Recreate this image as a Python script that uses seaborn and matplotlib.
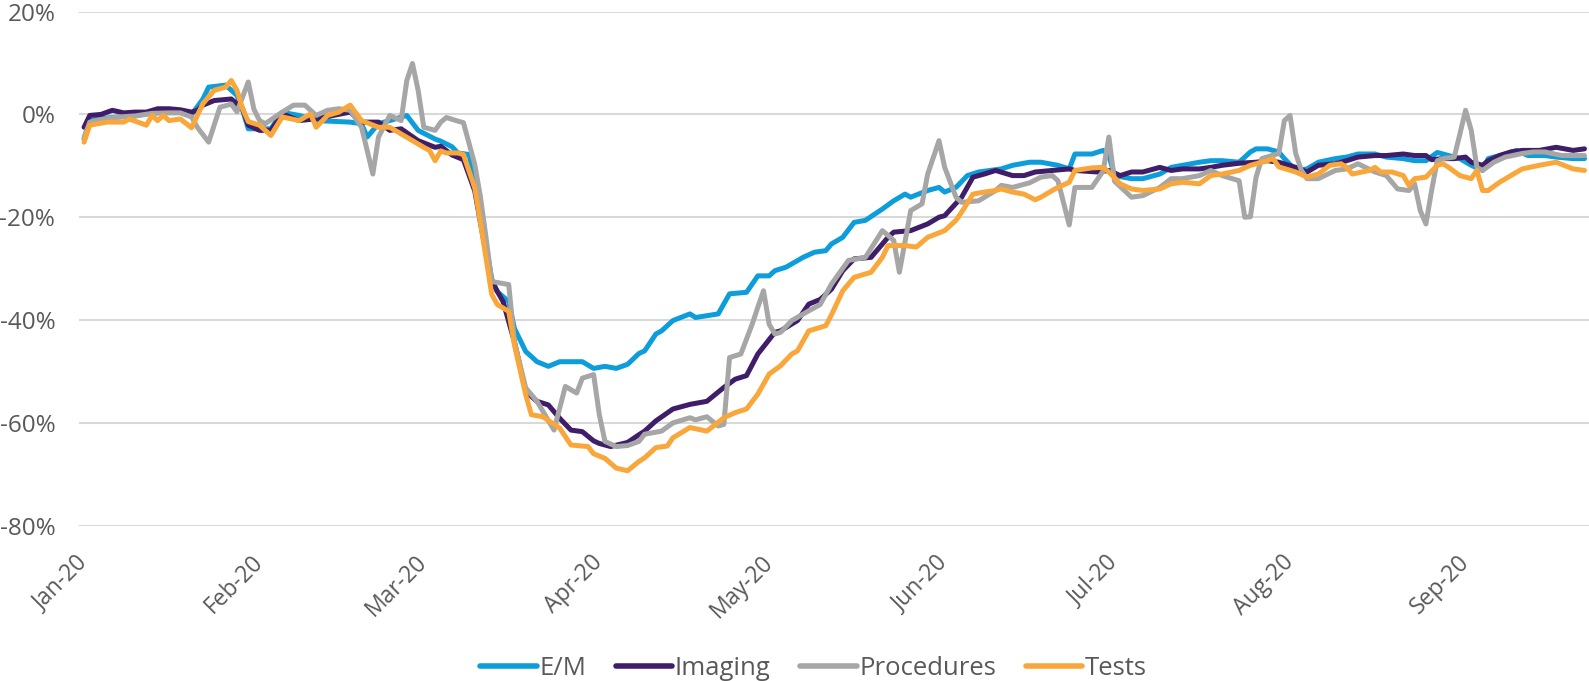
import numpy as np
import pandas as pd
import matplotlib
matplotlib.use("Agg")
import matplotlib.pyplot as plt
import seaborn as sns

# ---------------- data (percent change, day offsets from 2020-01-01) ----------------
START = pd.Timestamp("2020-01-01")
series_names = ["E/M", "Imaging", "Procedures", "Tests"]
series_colors = ["#0D9DDB", "#3F1D68", "#A6A6A6", "#F9A73B"]

em_days = [0, 1, 3, 6, 9, 12, 15, 17, 19, 21, 22, 25, 27, 28, 29, 33, 35, 38, 41, 47,
           49, 50, 52, 54, 57, 59, 62, 63, 65, 66, 68, 69, 70, 71, 72, 73, 75, 76, 78, 80,
           82, 84, 86, 88, 90, 92, 94, 96, 98, 99, 101, 102, 104, 107, 108, 112, 114, 117, 119, 121,
           122, 124, 127, 129, 131, 132, 134, 136, 138, 141, 143, 145, 146, 149, 151, 152, 154, 156, 158, 162,
           164, 167, 169, 172, 174, 175, 178, 180, 181, 182, 185, 187, 190, 192, 194, 197, 199, 201, 204, 206,
           207, 209, 211, 212, 214, 216, 218, 221, 223, 225, 228, 230, 233, 235, 237, 239, 241, 243, 245, 247,
           248, 251, 253, 255, 258, 260, 263, 265]
em_vals = [-4.8, -1.2, -0.8, -0.5, -0.3, 0.3, 0.5, 0.5, 0.0, 3.0, 5.3, 5.7, 3.7, 0.8, -2.8, -2.8, 0.4, -0.2, -1.2, -1.5,
           -1.8, -4.4, -1.8, -1.2, -0.2, -3.1, -4.8, -5.2, -6.3, -7.5, -7.8, -13.0, -19.0, -25.5, -32.0, -34.5, -36.4, -41.6, -46.1, -48.1,
           -49.0, -48.1, -48.1, -48.1, -49.4, -49.0, -49.4, -48.6, -46.5, -46.0, -42.7, -42.1, -40.1, -38.8, -39.5, -38.8, -34.9, -34.6, -31.4, -31.4,
           -30.4, -29.7, -27.8, -26.8, -26.5, -25.2, -23.9, -21.0, -20.6, -18.4, -16.8, -15.5, -16.1, -14.8, -14.2, -15.1, -14.2, -11.9, -11.2, -10.6,
           -9.9, -9.3, -9.3, -9.9, -10.6, -7.7, -7.7, -7.0, -8.0, -11.9, -12.5, -12.5, -11.6, -10.3, -9.9, -9.3, -9.0, -9.0, -9.3, -7.3,
           -6.7, -6.7, -7.3, -8.6, -10.9, -10.6, -9.3, -8.6, -8.3, -7.7, -7.7, -8.3, -8.6, -9.0, -9.0, -7.4, -8.0, -8.6, -9.9, -10.9,
           -8.6, -7.7, -7.0, -8.0, -8.0, -8.3, -8.6, -8.6]

img_days = [0, 1, 3, 5, 7, 9, 11, 13, 15, 17, 19, 20, 21, 23, 25, 26, 28, 29, 31, 33,
            35, 38, 41, 44, 47, 49, 52, 54, 56, 59, 62, 63, 65, 67, 69, 70, 71, 72, 74, 76,
            78, 80, 82, 84, 86, 88, 90, 91, 93, 96, 98, 99, 101, 104, 107, 110, 113, 115, 117, 119,
            122, 123, 126, 128, 130, 132, 134, 136, 139, 142, 143, 146, 149, 151, 152, 155, 157, 159, 161, 164,
            166, 168, 171, 174, 175, 179, 181, 183, 185, 187, 190, 192, 194, 197, 199, 201, 204, 207, 209, 211,
            214, 216, 218, 221, 223, 225, 228, 230, 233, 235, 237, 238, 240, 242, 244, 245, 247, 248, 250, 252,
            254, 257, 260, 263, 265]
img_vals = [-2.5, -0.2, 0.0, 0.8, 0.3, 0.45, 0.45, 1.1, 1.1, 0.9, 0.45, 0.8, 1.8, 2.7, 2.9, 3.0, 1.1, -2.1, -3.1, -3.1,
            0.1, -1.2, -0.85, -0.2, 0.45, -1.5, -1.5, -3.1, -2.8, -5.1, -6.4, -6.2, -7.9, -8.8, -14.9, -21.0, -27.0, -32.5, -36.4, -44.2,
            -53.9, -55.8, -56.5, -59.1, -61.4, -61.7, -63.5, -64.0, -64.6, -63.8, -62.3, -61.6, -59.6, -57.3, -56.4, -55.8, -53.1, -51.5, -50.8, -46.6,
            -42.4, -42.1, -40.1, -36.9, -36.0, -34.0, -30.4, -28.1, -27.8, -23.9, -22.9, -22.6, -21.3, -20.0, -19.7, -16.1, -12.2, -11.6, -10.9, -11.9,
            -11.9, -11.2, -10.9, -10.6, -10.9, -11.2, -10.9, -11.9, -11.2, -11.2, -10.3, -10.9, -10.6, -10.6, -10.3, -9.9, -9.5, -9.3, -9.0, -9.3,
            -10.3, -11.2, -9.9, -9.6, -9.0, -8.3, -8.0, -8.0, -7.7, -8.0, -8.0, -8.8, -8.6, -8.6, -8.3, -9.3, -9.9, -9.0, -8.0, -7.3,
            -7.0, -7.0, -6.4, -7.0, -6.7]

proc_days = [0, 1, 3, 6, 9, 12, 15, 17, 19, 20, 22, 24, 25, 26, 27, 29, 30, 31, 32, 35,
             37, 39, 41, 43, 45, 47, 49, 50, 51, 52, 54, 56, 57, 58, 59, 60, 62, 63, 64, 66,
             67, 69, 70, 71, 72, 75, 76, 78, 80, 83, 85, 87, 88, 90, 91, 92, 94, 96, 98, 99,
             102, 104, 107, 108, 110, 112, 113, 114, 116, 118, 119, 120, 121, 122, 123, 125, 128, 130, 132, 135,
             138, 141, 143, 144, 146, 148, 149, 151, 152, 154, 155, 158, 161, 162, 164, 167, 169, 171, 172, 174,
             175, 178, 180, 181, 182, 185, 187, 190, 192, 194, 197, 199, 201, 204, 205, 206, 207, 208, 211, 212,
             213, 214, 215, 216, 218, 221, 223, 225, 228, 230, 232, 234, 235, 236, 237, 238, 239, 240, 242, 243,
             244, 245, 246, 247, 249, 251, 254, 256, 258, 261, 265]
proc_vals = [-4.5, -1.5, -1.0, -0.5, -0.3, 0.2, 0.3, 0.3, -0.5, -2.5, -5.4, 1.4, 1.7, 2.0, 0.5, 6.3, 1.0, -1.2, -1.8, 0.45,
             1.8, 1.8, -0.2, 0.8, 1.1, 0.8, -2.5, -7.0, -11.6, -4.4, -0.2, -1.2, 6.6, 9.9, 4.7, -2.5, -3.1, -1.5, -0.6, -1.3,
             -1.6, -9.7, -16.0, -24.0, -32.5, -33.1, -44.2, -53.2, -55.8, -61.4, -52.9, -54.2, -51.3, -50.6, -58.4, -63.6, -64.6, -64.4, -63.6, -62.2,
             -61.6, -60.0, -59.0, -59.4, -58.8, -60.6, -60.3, -47.3, -46.6, -40.8, -37.5, -34.3, -40.8, -42.7, -42.4, -40.1, -38.2, -37.0, -33.0, -28.4,
             -27.8, -22.6, -24.5, -30.7, -18.7, -17.4, -11.6, -5.1, -10.3, -16.1, -17.1, -16.8, -14.8, -13.8, -14.2, -13.3, -12.2, -11.9, -12.9, -21.5,
             -14.2, -14.2, -11.0, -4.4, -13.0, -16.1, -15.8, -14.2, -12.5, -12.5, -11.9, -10.9, -11.9, -12.9, -20.0, -19.9, -12.2, -8.6, -7.6, -1.2,
             -0.2, -7.6, -10.9, -12.5, -12.5, -10.9, -10.6, -9.6, -11.2, -11.9, -14.5, -14.8, -13.5, -18.7, -21.3, -14.8, -9.0, -8.6, -8.3, -3.8,
             0.8, -3.1, -10.3, -10.9, -9.3, -8.3, -7.6, -7.3, -7.3, -8.0, -8.0]

test_days = [0, 1, 4, 7, 8, 11, 12, 13, 14, 15, 17, 19, 20, 21, 23, 25, 26, 27, 28, 29,
             31, 33, 35, 38, 40, 41, 43, 45, 47, 49, 52, 54, 56, 58, 60, 61, 62, 63, 64, 66,
             67, 69, 70, 71, 72, 73, 75, 76, 78, 79, 81, 84, 86, 89, 90, 92, 94, 96, 98, 99,
             101, 103, 104, 107, 110, 113, 115, 117, 119, 121, 123, 125, 126, 128, 131, 132, 134, 136, 139, 141,
             142, 145, 147, 149, 152, 154, 155, 157, 159, 161, 162, 164, 166, 168, 169, 171, 172, 174, 175, 178,
             180, 181, 183, 185, 187, 190, 192, 194, 197, 199, 201, 204, 206, 209, 210, 211, 214, 216, 218, 220,
             222, 223, 224, 227, 228, 229, 231, 233, 234, 235, 237, 239, 240, 241, 243, 245, 246, 247, 248, 250,
             252, 254, 257, 260, 263, 265]
test_vals = [-5.4, -2.1, -1.5, -1.5, -0.9, -2.1, -0.2, -1.2, -0.2, -1.2, -0.9, -2.6, -0.2, 2.1, 4.7, 5.3, 6.6, 4.7, 1.1, -1.4,
             -2.1, -4.1, -0.5, -1.2, 0.1, -2.5, -0.2, 0.45, 1.8, -1.2, -2.5, -2.5, -3.8, -5.1, -6.4, -7.0, -9.0, -7.1, -7.5, -7.5,
             -7.8, -14.3, -21.0, -28.0, -35.0, -37.0, -38.3, -44.8, -54.5, -58.4, -58.8, -61.0, -64.3, -64.6, -66.0, -66.9, -68.8, -69.3, -67.5, -66.8,
             -64.8, -64.5, -62.9, -60.9, -61.6, -59.0, -58.0, -57.3, -54.4, -50.5, -48.9, -46.6, -46.0, -42.1, -41.1, -39.0, -34.3, -31.7, -30.7, -27.8,
             -25.5, -25.5, -25.8, -23.9, -22.6, -20.6, -19.0, -15.5, -15.1, -14.8, -14.5, -15.1, -15.5, -16.6, -16.1, -14.8, -14.2, -13.2, -10.9, -10.4,
             -10.3, -11.2, -13.5, -14.5, -14.8, -14.5, -13.5, -13.2, -13.5, -11.9, -11.6, -10.9, -9.9, -9.0, -8.6, -10.2, -11.2, -12.2, -11.6, -9.9,
             -9.6, -10.3, -11.6, -10.9, -10.3, -11.2, -11.2, -11.9, -13.8, -12.5, -12.2, -9.9, -9.6, -10.3, -11.9, -12.5, -10.9, -14.8, -14.8, -13.2,
             -11.9, -10.6, -9.9, -9.3, -10.6, -10.9]

ytick_values = [-0.8, -0.6, -0.4, -0.2, 0.0, 0.2]
ytick_labels = ["-80%", "-60%", "-40%", "-20%", "0%", "20%"]
xtick_dates = ["2020-01-01", "2020-02-01", "2020-03-01", "2020-04-01", "2020-05-01",
               "2020-06-01", "2020-07-01", "2020-08-01", "2020-09-01"]
xtick_labels = ["Jan-20", "Feb-20", "Mar-20", "Apr-20", "May-20", "Jun-20", "Jul-20", "Aug-20", "Sep-20"]

# ---------------- build long table ----------------
frames = []
for name, days, vals in zip(series_names,
                            [em_days, img_days, proc_days, test_days],
                            [em_vals, img_vals, proc_vals, test_vals]):
    assert len(days) == len(vals), name
    frames.append(pd.DataFrame({
        "date": START + pd.to_timedelta(np.array(days, dtype=float), unit="D"),
        "value": np.array(vals) / 100.0,
        "series": name,
    }))
df = pd.concat(frames, ignore_index=True)

# ---------------- plot ----------------
sns.set_theme(style="white")
plt.rcParams["font.family"] = ["Open Sans", "DejaVu Sans"]
plt.rcParams["axes.unicode_minus"] = False
TXT = "#595959"

fig = plt.figure(figsize=(15.89, 6.81), dpi=100)
ax = fig.add_axes([0.0497, 0.228, 0.9503, 0.755])

sns.lineplot(data=df, x="date", y="value", hue="series", hue_order=series_names,
             palette=series_colors, linewidth=3.6, estimator=None, sort=True, ax=ax,
             legend=True)
for ln in ax.lines:
    ln.set_solid_joinstyle("round")
    ln.set_solid_capstyle("round")

ax.set_ylim(-0.8, 0.2)
ax.set_yticks(ytick_values)
ax.set_yticklabels(ytick_labels)
ax.set_xlim(START - pd.Timedelta(days=0.9), START + pd.Timedelta(days=265.8))
ax.set_xticks(pd.to_datetime(xtick_dates))
ax.set_xticklabels(xtick_labels)
ax.set_xlabel("")
ax.set_ylabel("")

ax.grid(axis="y", color="#D9D9D9", linewidth=1.5)
ax.grid(axis="x", visible=False)
ax.set_axisbelow(True)
for s in ax.spines.values():
    s.set_visible(False)

ax.tick_params(axis="y", length=0, pad=17, labelsize=17.5, labelcolor=TXT)
ax.tick_params(axis="x", length=0, pad=24, labelsize=16.5, labelcolor=TXT)
for lab in ax.get_xticklabels():
    lab.set_rotation(45)
    lab.set_ha("right")
    lab.set_va("center")
    lab.set_rotation_mode("anchor")

handles, labels = ax.get_legend_handles_labels()
ax.get_legend().remove()
leg = fig.legend(handles, labels, loc="center", bbox_to_anchor=(0.512, 0.019), ncol=4,
                 frameon=False, fontsize=18.5, handlelength=2.2, handletextpad=0.1,
                 columnspacing=1.15, labelcolor=TXT)
for h in leg.legend_handles:
    h.set_linewidth(4.0)
    h.set_solid_capstyle("round")

fig.savefig("out.png", dpi=100, facecolor="white")
